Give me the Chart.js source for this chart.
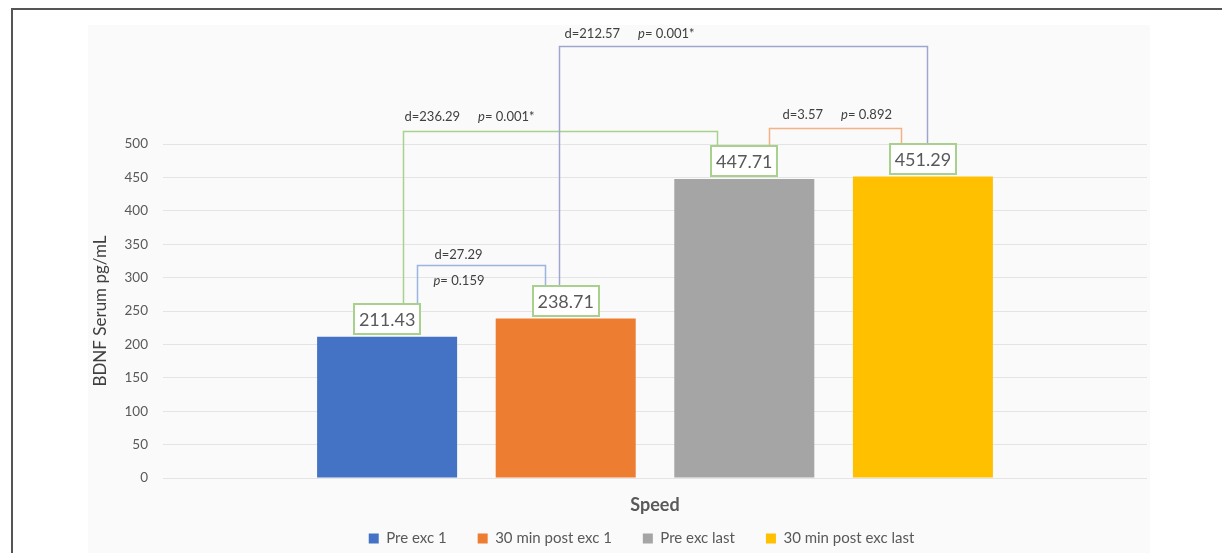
<!DOCTYPE html>
<html>
<head>
<meta charset="utf-8">
<script src="https://cdn.jsdelivr.net/npm/chart.js@4.4.1/dist/chart.umd.min.js"></script>
<style>
  html, body { margin: 0; padding: 0; background: #ffffff; overflow: hidden; }
  body { width: 1222px; height: 553px; position: relative; }
  .marco { position: absolute; left: 11px; top: 8px; width: 1300px; height: 600px; border-left: 2px solid #555555; border-top: 2px solid #555555; }
  #grafico { position: absolute; left: 88px; top: 25px; background: #fafafa; }
</style>
</head>
<body>
<div class="marco"></div>
<canvas id="grafico" width="1062" height="531"></canvas>
<script>
// Datos del gráfico
const categorias = ['Speed'];
const series = ['Pre exc 1', '30 min post exc 1', 'Pre exc last', '30 min post exc last'];
const valores = [211.43, 238.71, 447.71, 451.29];
const colores = ['#4472c4', '#ed7d31', '#a5a5a5', '#ffc000'];

// Comparaciones entre grupos (índices de serie)
const pares = [[0, 1], [0, 2], [1, 3], [2, 3]];
const diferencias = ['27.29', '236.29', '212.57', '3.57'];
const valoresP = ['0.159', '0.001*', '0.001*', '0.892'];

// Estilo de los corchetes: nivel en unidades del eje Y, desplazamientos en px
const corchetes = [
  { nivel: 319, dx1: 30, dx2: -21, color: '#9db3e0', texto: { dx: 17, dy: -11, dosLineas: true, dxP: 16, dyP: 15 } },
  { nivel: 519, dx1: 16, dx2: -27, color: '#a9d18e', texto: { dx: 1, dy: -15 } },
  { nivel: 647, dx1: -7, dx2: 4, color: '#9ea6cf', texto: { dx: 5, dy: -13 } },
  { nivel: 524, dx1: 25, dx2: -22, color: '#f4b183', texto: { dx: 13, dy: -14 } }
];

const FUENTE = 'Lato, "Open Sans", sans-serif';
const CAJA_ANCHO = 66, CAJA_ALTO = 30, CAJA_SEP = 3;
const DESPLAZAR_LEYENDA = 24;

function topeCaja(chart, i) {
  const el = chart.getDatasetMeta(i).data[0];
  return el.y - CAJA_SEP - CAJA_ALTO;
}

const pluginAnotaciones = {
  id: 'anotaciones',
  afterLayout(chart) {
    // La leyenda del original no está centrada en el panel
    chart.legend.left += DESPLAZAR_LEYENDA;
    chart.legend.right += DESPLAZAR_LEYENDA;
  },
  afterDatasetsDraw(chart) {
    const ctx = chart.ctx;
    const escalaX = chart.scales.x;
    const escalaY = chart.scales.y;
    ctx.save();

    // Etiqueta de categoría bajo el eje
    ctx.fillStyle = '#595959';
    ctx.font = 'bold 18px ' + FUENTE;
    ctx.textAlign = 'center';
    ctx.textBaseline = 'middle';
    for (let i = 0; i < categorias.length; i++) {
      ctx.fillText(escalaX.getLabelForValue(i), escalaX.getPixelForValue(i), chart.chartArea.bottom + 27);
    }

    // Corchetes de comparación
    for (let k = 0; k < pares.length; k++) {
      const c = corchetes[k];
      const a = chart.getDatasetMeta(pares[k][0]).data[0];
      const b = chart.getDatasetMeta(pares[k][1]).data[0];
      const x1 = Math.round(a.x + c.dx1) + 0.5;
      const x2 = Math.round(b.x + c.dx2) + 0.5;
      const yl = Math.round(escalaY.getPixelForValue(c.nivel)) + 0.5;
      ctx.strokeStyle = c.color;
      ctx.lineWidth = 1.5;
      ctx.beginPath();
      ctx.moveTo(x1, topeCaja(chart, pares[k][0]));
      ctx.lineTo(x1, yl);
      ctx.lineTo(x2, yl);
      ctx.lineTo(x2, topeCaja(chart, pares[k][1]));
      ctx.stroke();

      // Texto d= y p=
      ctx.fillStyle = '#404040';
      ctx.textBaseline = 'middle';
      ctx.textAlign = 'left';
      ctx.font = '13px ' + FUENTE;
      const tx = x1 + c.texto.dx;
      const ty = yl + c.texto.dy;
      const textoD = 'd=' + diferencias[k];
      ctx.fillText(textoD, tx, ty);
      let px, py;
      if (c.texto.dosLineas) {
        px = x1 + c.texto.dxP;
        py = yl + c.texto.dyP;
      } else {
        px = tx + ctx.measureText(textoD).width + 18;
        py = ty;
      }
      ctx.font = 'italic 13px ' + FUENTE;
      ctx.fillText('p', px, py);
      const wp = ctx.measureText('p').width;
      ctx.font = '13px ' + FUENTE;
      ctx.fillText('= ' + valoresP[k], px + wp, py);
    }

    // Etiquetas de valor con recuadro verde
    for (let i = 0; i < valores.length; i++) {
      const el = chart.getDatasetMeta(i).data[0];
      const bx = Math.round(el.x - CAJA_ANCHO / 2);
      const by = Math.round(topeCaja(chart, i));
      ctx.fillStyle = '#ffffff';
      ctx.fillRect(bx, by, CAJA_ANCHO, CAJA_ALTO);
      ctx.strokeStyle = '#a9d18e';
      ctx.lineWidth = 2;
      ctx.strokeRect(bx, by, CAJA_ANCHO, CAJA_ALTO);
      ctx.fillStyle = '#595959';
      ctx.font = '18px ' + FUENTE;
      ctx.textAlign = 'center';
      ctx.textBaseline = 'middle';
      ctx.fillText(valores[i].toFixed(2), el.x, by + CAJA_ALTO / 2 + 1);
    }
    ctx.restore();
  }
};

const conjuntos = series.map((nombre, i) => ({
  label: nombre,
  data: [valores[i]],
  backgroundColor: colores[i],
  borderWidth: 0,
  barPercentage: 0.784,
  categoryPercentage: 0.726
}));

new Chart(document.getElementById('grafico'), {
  type: 'bar',
  data: { labels: categorias, datasets: conjuntos },
  plugins: [pluginAnotaciones],
  options: {
    responsive: false,
    animation: false,
    devicePixelRatio: 1,
    layout: { padding: { top: 119, right: 3, left: 0, bottom: 0 } },
    plugins: {
      tooltip: { enabled: false },
      legend: {
        position: 'bottom',
        labels: {
          boxWidth: 10,
          boxHeight: 10,
          padding: 31,
          color: '#595959',
          font: { family: FUENTE, size: 15 }
        }
      }
    },
    scales: {
      x: {
        grid: { display: false },
        border: { display: false },
        ticks: { display: false },
        afterFit(scale) { scale.height = 22; }
      },
      y: {
        min: 0,
        max: 500,
        grid: { color: '#e4e4e4', drawTicks: false },
        border: { display: false },
        ticks: { stepSize: 50, color: '#595959', padding: 15, font: { family: FUENTE, size: 13.5 } },
        title: { display: true, text: 'BDNF Serum pg/mL', color: '#404040', padding: 2, font: { family: FUENTE, size: 17 } },
        afterFit(scale) { scale.width = 75; }
      }
    }
  }
});
</script>
</body>
</html>
